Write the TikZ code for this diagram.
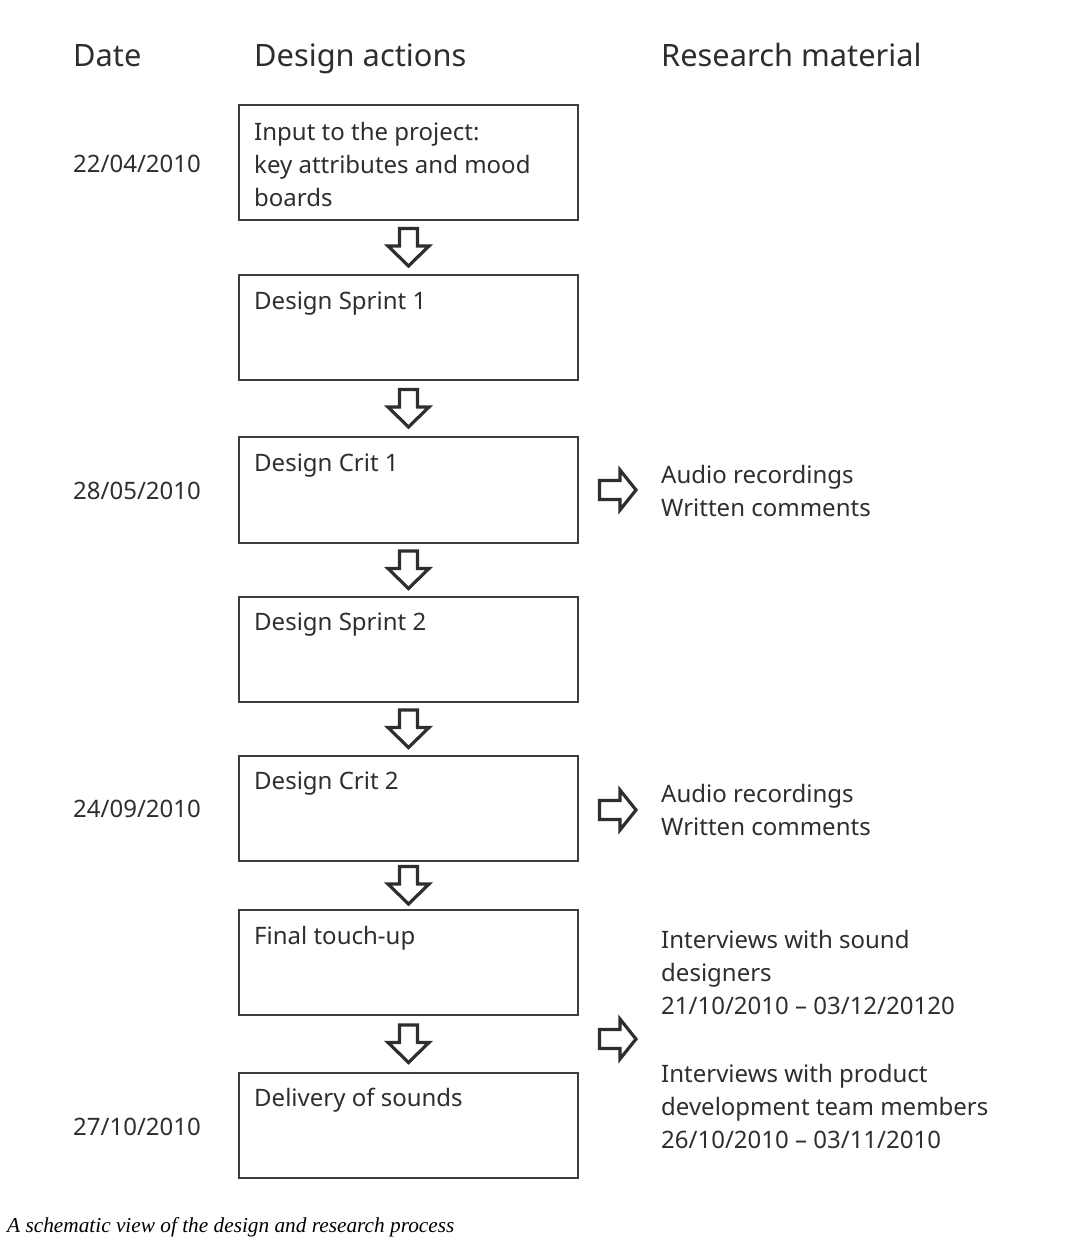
\documentclass[tikz,border=0pt]{standalone}
\usepackage{fontspec}
\setmainfont{Noto Sans}
\newfontfamily\capfont{Liberation Serif}
\usetikzlibrary{calc}
\definecolor{ink}{HTML}{2E2E2E}
\definecolor{edge}{HTML}{3C3C3C}
\begin{document}
\begin{tikzpicture}[x=1pt,y=-1pt,
  box/.style={draw=edge,line width=1.4pt,minimum width=339pt,inner sep=0pt,outer sep=0pt},
  txt/.style={text=ink,inner sep=0pt,anchor=base west,align=left,font=\fontsize{24}{33}\selectfont},
  head/.style={text=ink,inner sep=0pt,anchor=base west,font=\fontsize{30.8}{36}\selectfont},
  arrline/.style={draw=ink,line width=3.2pt,line join=miter},
  downarr/.pic={\draw[arrline] (-9,-19) -- (9,-19) -- (9,-1.5) -- (20.5,-1.5) -- (0,18.5) -- (-20.5,-1.5) -- (-9,-1.5) -- cycle;},
  rightarr/.pic={\draw[arrline] (-18.5,-9.5) -- (2,-9.5) -- (2,-20) -- (18,0) -- (2,20) -- (2,9.5) -- (-18.5,9.5) -- cycle;}]
\useasboundingbox (0,0) rectangle (1080,1250);
% headers
\node[head] (hd) at (73,66) {Date};
\node[head] (ha) at (254,66) {Design actions};
\node[head] (hr) at (661,66) {Research material};
% boxes
\node[box,minimum height=115pt] (b1) at (408.5,162.5) {};
\node[box,minimum height=105pt] (b2) at (408.5,327.5) {};
\node[box,minimum height=106pt] (b3) at (408.5,490) {};
\node[box,minimum height=105pt] (b4) at (408.5,649.5) {};
\node[box,minimum height=105pt] (b5) at (408.5,808.5) {};
\node[box,minimum height=105pt] (b6) at (408.5,962.5) {};
\node[box,minimum height=105pt] (b7) at (408.5,1125.5) {};
% box texts (base = last line)
\node[txt] (t1) at (254,206) {Input to the project:\\key attributes and mood\\boards};
\node[txt] (t2) at (254,309) {Design Sprint 1};
\node[txt] (t3) at (254,471) {Design Crit 1};
\node[txt] (t4) at (254,630) {Design Sprint 2};
\node[txt] (t5) at (254,789) {Design Crit 2};
\node[txt] (t6) at (254,944) {Final touch-up};
\node[txt] (t7) at (254,1106) {Delivery of sounds};
% dates
\node[txt] (d1) at (73,172) {22/04/2010};
\node[txt] (d2) at (73,499) {28/05/2010};
\node[txt] (d3) at (73,817) {24/09/2010};
\node[txt] (d4) at (73,1135) {27/10/2010};
% down arrows
\coordinate (c1) at ($(b1.south)!0.5!(b2.north)$);
\coordinate (c2) at ($(b2.south)!0.5!(b3.north)$);
\coordinate (c3) at ($(b3.south)!0.5!(b4.north)$);
\coordinate (c4) at ($(b4.south)!0.5!(b5.north)$);
\coordinate (c5) at ($(b5.south)!0.5!(b6.north)$);
\coordinate (c6) at ($(b6.south)!0.5!(b7.north)$);
\foreach \c in {c1,c2,c3,c4,c5,c6} \pic at (\c) {downarr};
% right arrows
\coordinate (r1) at (618,490);
\coordinate (r2) at (618,810);
\coordinate (r3) at (618,1039);
\foreach \c in {r1,r2,r3} \pic at (\c) {rightarr};
% research material (base = last line)
\node[txt] (m1) at (661,516) {Audio recordings\\Written comments};
\node[txt] (m2) at (661,835) {Audio recordings\\Written comments};
\node[txt] (m3) at (661,1014) {Interviews with sound\\designers\\21/10/2010 -- 03/12/20120};
\node[txt] (m4) at (661,1148) {Interviews with product\\development team members\\26/10/2010 -- 03/11/2010};
% caption
\node[anchor=base west,inner sep=0pt,text=black,font=\capfont\itshape\fontsize{21.3}{25}\selectfont] (cap) at (7,1232) {A schematic view of the design and research process};
\end{tikzpicture}
\end{document}
